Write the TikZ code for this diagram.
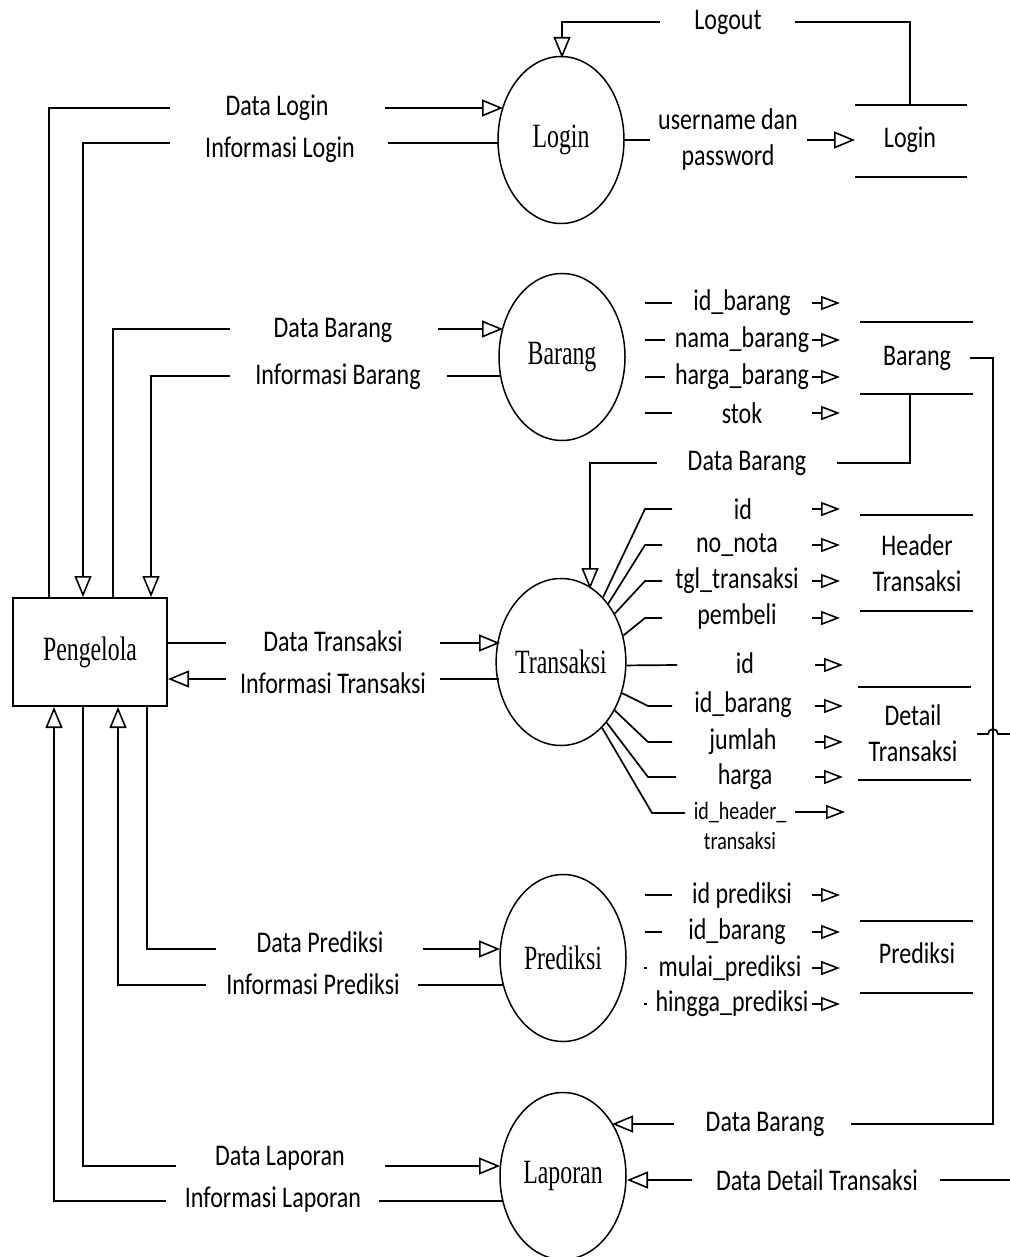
\documentclass[tikz,border=0pt]{standalone}
\usepackage{fontspec}
\setmainfont{Carlito}[FakeStretch=0.8]
\newfontfamily\procfamily{Liberation Serif}[FakeStretch=0.7]
\usetikzlibrary{arrows.meta,shapes.geometric}
\newcommand\lblsize{\fontsize{30}{36}\selectfont}
\newcommand\smlsize{\fontsize{25}{30}\selectfont}
\newcommand\procsize{\procfamily\fontsize{34}{36}\selectfont}
\begin{document}
\begin{tikzpicture}[x=1pt,y=-1pt,
  flow/.style={line width=1.7pt},
  arr/.style={flow,-{Triangle[open,length=21pt,width=17pt,line width=1.6pt]}},
  sarr/.style={flow,-{Triangle[open,length=19pt,width=14pt,line width=1.6pt]}},
  proc/.style={ellipse,draw,line width=1.5pt,minimum width=126pt,minimum height=167pt,inner sep=0pt,font=\procsize},
  lbl/.style={inner sep=0pt,align=center,font=\lblsize},
  slbl/.style={inner sep=0pt,align=center,font=\smlsize}]
\useasboundingbox (0,0) rectangle (1009,1257);

% ---------- processes and entity ----------
\node[proc] (login) at (561,140) {Login};
\node[proc] (barang) at (562,357) {Barang};
\node[proc] (transaksi) at (561,662) {Transaksi};
\node[proc] (prediksi) at (563,958) {Prediksi};
\node[proc] (laporan) at (563,1176) {Laporan};
\node[draw,line width=1.7pt,minimum width=154pt,minimum height=108pt,inner sep=0pt,font=\procsize] (peng) at (90,652) {Pengelola};

% ---------- data stores ----------
\node[lbl] (sLogin) at (910,140) {Login};
\draw[flow] (855,105) -- (967,105) (855,177) -- (967,177);
\node[lbl] (sBarang) at (917,358) {Barang};
\draw[flow] (860,322) -- (973,322) (860,394) -- (973,394);
\node[lbl] (sHeader) at (917,563) {Header\\Transaksi};
\draw[flow] (860,515) -- (973,515) (860,611) -- (973,611);
\node[lbl] (sDetail) at (913,733) {Detail\\Transaksi};
\draw[flow] (858,687) -- (971,687) (858,780) -- (971,780);
\node[lbl] (sPred) at (917,953) {Prediksi};
\draw[flow] (860,921) -- (973,921) (860,993) -- (973,993);

% ---------- Pengelola <-> processes ----------
\node[lbl] (lDataLogin) at (277,108) {Data Login};
\draw[flow] (49,598) -- (49,108) -- (170,108);
\draw[arr] (385,108) -- (503,108);

\node[lbl] (lInfoLogin) at (280,150) {Informasi Login};
\draw[flow] (498,143) -- (388,143);
\draw[arr] (170,143) -- (83,143) -- (83,597);

\node[lbl] (lDataBarang) at (333,330) {Data Barang};
\draw[flow] (113,598) -- (113,329) -- (230,329);
\draw[arr] (438,329) -- (503,329);

\node[lbl] (lInfoBarang) at (338,377) {Informasi Barang};
\draw[flow] (501,376) -- (447,376);
\draw[arr] (230,376) -- (151,376) -- (151,597);

\node[lbl] (lDataTrans) at (333,641) {Data Transaksi};
\draw[flow] (peng.east |- 0,643) -- (226,643);
\draw[arr] (440,643) -- (500,643);

\node[lbl] (lInfoTrans) at (333,683) {Informasi Transaksi};
\draw[flow] (499,679) -- (440,679);
\draw[arr] (226,679) -- (168,679);

\node[lbl] (lDataPred) at (320,942) {Data Prediksi};
\draw[flow] (147,706) -- (147,949) -- (216,949);
\draw[arr] (423,949) -- (500,949);

\node[lbl] (lInfoPred) at (313,984) {Informasi Prediksi};
\draw[flow] (503,985) -- (418,985);
\draw[arr] (206,985) -- (118,985) -- (118,707);

\node[lbl] (lDataLap) at (280,1158) {Data Laporan};
\draw[flow] (83,706) -- (83,1166) -- (176,1166);
\draw[arr] (385,1166) -- (500,1166);

\node[lbl] (lInfoLap) at (273,1200) {Informasi Laporan};
\draw[flow] (503,1201) -- (379,1201);
\draw[arr] (166,1201) -- (54,1201) -- (54,707);

% ---------- Login <-> store ----------
\node[lbl] (lUser) at (728,140) {username dan\\password};
\draw[flow] (login.east) -- (650,140);
\draw[arr] (807,140) -- (855,140);

\node[lbl] (lLogout) at (728,22) {Logout};
\draw[flow] (910,105) -- (910,22) -- (795,22);
\draw[arr] (660,22) -- (562,22) -- (562,58);

% ---------- Barang attributes ----------
\node[lbl] (bA1) at (742,303) {id\_barang};
\node[lbl] (bA2) at (742,340) {nama\_barang};
\node[lbl] (bA3) at (742,377) {harga\_barang};
\node[lbl] (bA4) at (742,413) {stok};
\draw[flow] (645,303) -- (672,303) (645,340) -- (665,340) (645,377) -- (665,377) (645,413) -- (672,413);
\foreach \yy in {303,340,377,413} \draw[sarr] (812,\yy) -- (840,\yy);

% Data Barang from store to Transaksi
\node[lbl] (lDB1) at (747,463) {Data Barang};
\draw[flow] (910,394) -- (910,463) -- (837,463);
\draw[arr] (657,463) -- (590,463) -- (590,589);

% ---------- Transaksi -> Header Transaksi ----------
\node[lbl] (hA1) at (743,509) {id};
\node[lbl] (hA2) at (737,545) {no\_nota};
\node[lbl] (hA3) at (737,581) {tgl\_transaksi};
\node[lbl] (hA4) at (737,616) {pembeli};
\draw[flow] (transaksi.57) -- (645,509) -- (672,509);
\draw[flow] (transaksi.51) -- (645,545) -- (662,545);
\draw[flow] (transaksi.42) -- (645,581) -- (662,581);
\draw[flow] (transaksi.23) -- (645,618) -- (662,618);
\foreach \yy in {509,545,581,618} \draw[sarr] (812,\yy) -- (840,\yy);

% ---------- Transaksi -> Detail Transaksi ----------
\node[lbl] (dA1) at (745,663) {id};
\node[lbl] (dA2) at (743,705) {id\_barang};
\node[lbl] (dA3) at (743,742) {jumlah};
\node[lbl] (dA4) at (745,777) {harga};
\node[slbl] (dA5) at (740,826) {id\_header\_\\transaksi};
\draw[flow] (transaksi.-3) -- (677,665);
\draw[flow] (transaksi.-27) -- (648,706) -- (672,706);
\draw[flow] (transaksi.-42) -- (648,742) -- (672,742);
\draw[flow] (transaksi.-53) -- (648,777) -- (676,777);
\draw[flow] (transaksi.-58) -- (652,813) -- (685,813);
\foreach \yy in {665,706,742,777} \draw[sarr] (815,\yy) -- (843,\yy);
\draw[sarr] (795,812) -- (845,812);

% ---------- Prediksi attributes ----------
\node[lbl] (pA1) at (742,895) {id prediksi};
\node[lbl] (pA2) at (737,932) {id\_barang};
\node[lbl] (pA3) at (730,968) {mulai\_prediksi};
\node[lbl] (pA4) at (732,1004) {hingga\_prediksi};
\draw[flow] (645,895) -- (672,895) (645,932) -- (662,932) (644,968) -- (647,968) (644,1004) -- (647,1004);
\foreach \yy in {895,932,968,1004} \draw[sarr] (812,\yy) -- (840,\yy);

% ---------- stores -> Laporan ----------
\node[lbl] (lDB2) at (765,1124) {Data Barang};
\draw[flow] (970,358) -- (993,358) -- (993,1124) -- (851,1124);
\draw[arr] (674,1124) -- (612,1124);

\node[lbl] (lDDT) at (817,1180) {Data Detail Transaksi};
\draw[flow] (977,734) -- (988,734) arc (180:360:5) -- (1011,734) -- (1011,1180) -- (940,1180);
\draw[arr] (692,1180) -- (627,1180);
\end{tikzpicture}
\end{document}
